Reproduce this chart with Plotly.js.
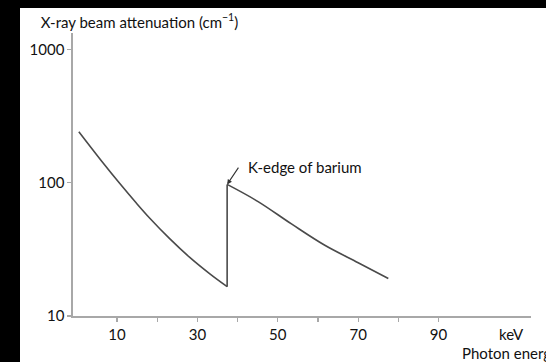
<!DOCTYPE html>
<html>
<head>
<meta charset="utf-8">
<script src="https://cdn.plot.ly/plotly-3.0.1.min.js"></script>
<style>
  html, body { margin: 0; padding: 0; background: #000; width: 546px; height: 362px; overflow: hidden; }
  #chart { position: absolute; left: 20px; top: 8px; width: 526px; height: 354px; background: #fff; overflow: hidden; }
</style>
</head>
<body>
<div id="chart"></div>
<script>
// Photon energy (keV) and attenuation (cm^-1)
// Below the barium K-edge
const energyBelowEdge = [0.5, 6.5, 10.7, 14.8, 18.1, 23.1, 28.1, 33.1, 37.4];
const attenBelowEdge = [241, 141, 98.4, 70.3, 54.3, 38.0, 27.5, 20.7, 16.6];
// Above the barium K-edge
const energyAboveEdge = [37.4, 45.1, 53.4, 61.7, 70.0, 77.5];
const attenAboveEdge = [97, 72.1, 49.0, 33.9, 25.1, 19.1];

const kEdgeEnergy = 37.4;
const kEdgeLabel = "K-edge of barium";

const xTickVals = [10, 20, 30, 40, 50, 60, 70, 80, 90];
const xTickText = ["10", "", "30", "", "50", "", "70", "", "90"];
const yTickVals = [10, 100, 1000];
const yTickText = ["10", "100", "1000"];

const yTitle = "X-ray beam attenuation (cm<sup>−1</sup>)";
const xUnit = "keV";
const xTitle = "Photon energy";

const FONT = "Lato, 'Open Sans', 'DejaVu Sans', sans-serif";
const TXT = "#111111";
const AX = "#a8a8a8";
const LINE = { color: "#4a4a4a", width: 1.6 };

const edgeTop = attenAboveEdge[0];
const edgeBottom = attenBelowEdge[attenBelowEdge.length - 1];

const traces = [
  { x: energyBelowEdge, y: attenBelowEdge, type: "scatter", mode: "lines",
    line: Object.assign({ shape: "spline", smoothing: 1.0 }, LINE), hoverinfo: "skip", showlegend: false },
  { x: [kEdgeEnergy, kEdgeEnergy], y: [edgeBottom, edgeTop], type: "scatter", mode: "lines",
    line: LINE, hoverinfo: "skip", showlegend: false },
  { x: energyAboveEdge, y: attenAboveEdge, type: "scatter", mode: "lines",
    line: Object.assign({ shape: "spline", smoothing: 1.0 }, LINE), hoverinfo: "skip", showlegend: false }
];

const layout = {
  width: 526,
  height: 354,
  margin: { l: 53, r: 15, t: 25, b: 46 },
  paper_bgcolor: "#ffffff",
  plot_bgcolor: "#ffffff",
  font: { family: FONT, size: 15, color: TXT },
  showlegend: false,
  title: {
    text: yTitle,
    x: 20.7 / 526, xanchor: "left",
    y: 1 - 14.5 / 354, yanchor: "middle",
    font: { family: FONT, size: 15, color: TXT }
  },
  xaxis: {
    range: [-0.95, 113],
    showgrid: false, zeroline: false,
    showline: true, linecolor: AX, linewidth: 1.6,
    ticks: "outside", ticklen: 4, tickcolor: AX, tickwidth: 1.2,
    tickvals: xTickVals, ticktext: xTickText,
    tickfont: { family: FONT, size: 15, color: TXT },
    fixedrange: true
  },
  yaxis: {
    type: "log",
    range: [1, 3.122],
    showgrid: false, zeroline: false,
    showline: true, linecolor: AX, linewidth: 1.6,
    ticks: "outside", ticklen: 4, tickcolor: AX, tickwidth: 1.2,
    tickvals: yTickVals, ticktext: yTickText,
    tickfont: { family: FONT, size: 15, color: TXT },
    fixedrange: true
  },
  annotations: [
    {
      xref: "x", yref: "y",
      x: kEdgeEnergy, y: Math.log10(edgeTop),
      text: "",
      showarrow: true,
      arrowhead: 2, arrowsize: 0.9, arrowwidth: 1.1, arrowcolor: "#333",
      ax: 12.3, ay: -18.3
    },
    {
      xref: "x", yref: "y",
      x: kEdgeEnergy, y: Math.log10(edgeTop),
      text: kEdgeLabel,
      showarrow: false,
      xanchor: "left", yanchor: "middle",
      xshift: 19, yshift: 17.5,
      font: { family: FONT, size: 15, color: TXT }
    },
    {
      xref: "paper", yref: "paper",
      x: (491 - 53) / 458, y: -18 / 283,
      text: xUnit, showarrow: false,
      xanchor: "center", yanchor: "middle",
      font: { family: FONT, size: 15, color: TXT }
    },
    {
      xref: "paper", yref: "paper",
      x: (440 - 53) / 458, y: -37 / 283,
      text: xTitle, showarrow: false,
      xanchor: "left", yanchor: "middle",
      font: { family: FONT, size: 15, color: TXT }
    }
  ]
};

Plotly.newPlot("chart", traces, layout, { displayModeBar: false, staticPlot: true });
</script>
</body>
</html>
